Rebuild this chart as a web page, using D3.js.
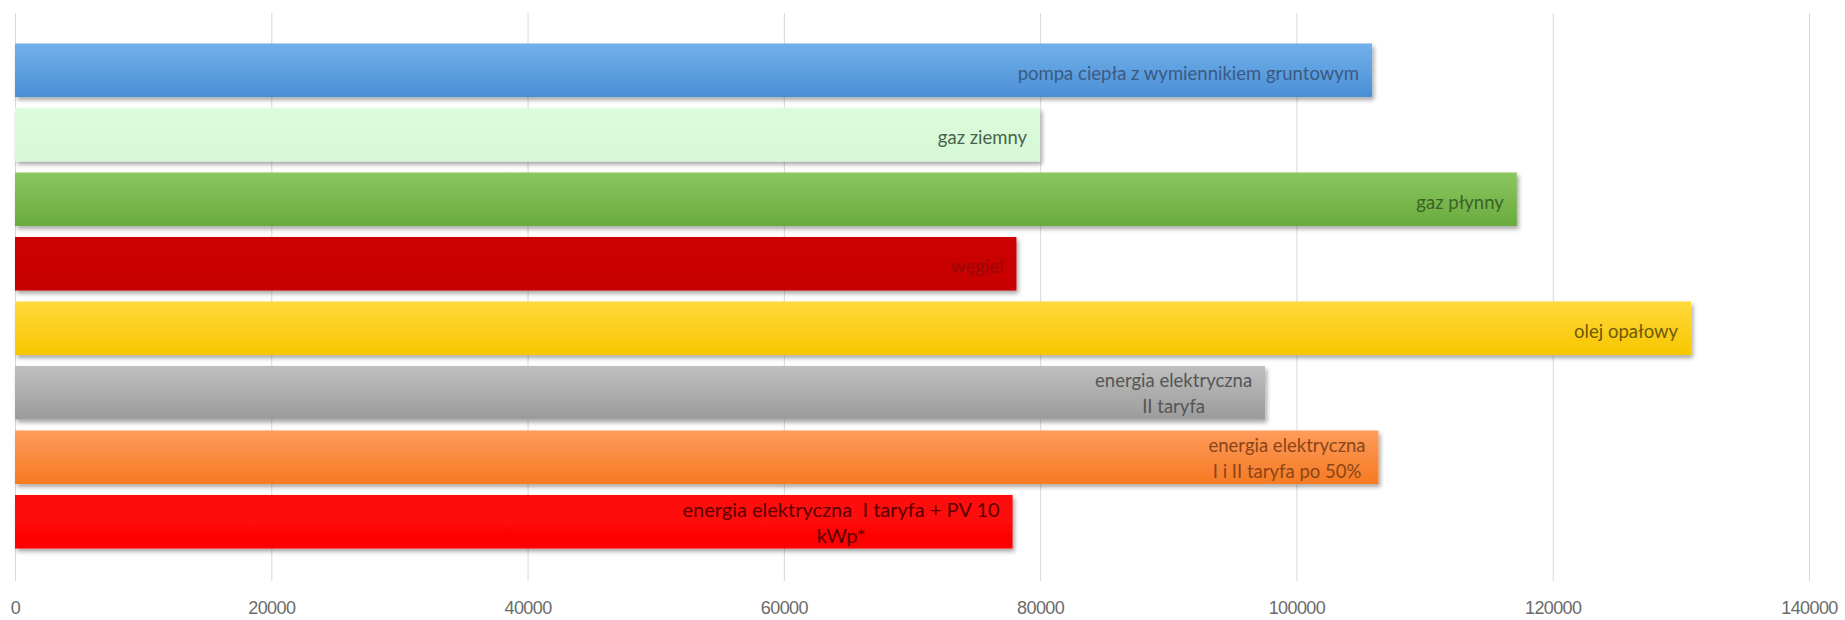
<!DOCTYPE html>
<html>
<head>
<meta charset="utf-8">
<script src="https://cdn.jsdelivr.net/npm/d3@7"></script>
<style>
	body { margin: 0; background: #fff; }
	svg { display: block; font-family: Lato, "Open Sans", sans-serif; }
	text { white-space: pre; }
</style>
</head>
<body>
<div id="chart"></div>
<script>
// Data
const categories = [
	"pompa ciepła z wymiennikiem gruntowym",
	"gaz ziemny",
	"gaz płynny",
	"węgiel",
	"olej opałowy",
	"energia elektryczna II taryfa",
	"energia elektryczna I i II taryfa po 50%",
	"energia elektryczna  I taryfa + PV 10 kWp*"
];
const values = [105900, 80000, 117200, 78150, 130800, 97550, 106400, 77850];
const labelLines = [
	["pompa ciepła z wymiennikiem gruntowym"],
	["gaz ziemny"],
	["gaz płynny"],
	["węgiel"],
	["olej opałowy"],
	["energia elektryczna", "II taryfa"],
	["energia elektryczna", "I i II taryfa po 50%"],
	["energia elektryczna  I taryfa + PV 10", "kWp*"]
];
const tickValues = [0, 20000, 40000, 60000, 80000, 100000, 120000, 140000];

// Colours (top / bottom of each bar, label colour)
const topColors = ["#72b0ea", "#dcfcdc", "#8bc661", "#cc0000", "#ffd93c", "#bfbfbf", "#fe9b5c", "#ff0909"];
const bottomColors = ["#4a8fd6", "#d6f8d6", "#69ab3d", "#c80000", "#f8c600", "#9b9b9b", "#f67a22", "#fd0505"];
const textColors = ["#3b5a82", "#4a634a", "#3b6326", "#960808", "#6e5a08", "#555555", "#8a4518", "#5a0000"];

const width = 1845;
const height = 620;
const gridTop = 13;
const gridBottom = 581;

const svg = d3.select("#chart").append("svg")
	.attr("width", width)
	.attr("height", height);

const defs = svg.append("defs");
const shadow = defs.append("filter")
	.attr("id", "shadow")
	.attr("x", "-5%").attr("y", "-20%")
	.attr("width", "110%").attr("height", "150%");
shadow.append("feDropShadow")
	.attr("dx", 2).attr("dy", 3)
	.attr("stdDeviation", 2)
	.attr("flood-color", "#000")
	.attr("flood-opacity", 0.35);

categories.forEach((c, i) => {
	const g = defs.append("linearGradient")
		.attr("id", "grad" + i)
		.attr("x1", 0).attr("y1", 0).attr("x2", 0).attr("y2", 1);
	g.append("stop").attr("offset", "0%").attr("stop-color", topColors[i]);
	g.append("stop").attr("offset", "100%").attr("stop-color", bottomColors[i]);
});

// Scales
const x = d3.scaleLinear()
	.domain([0, 140000])
	.range([15, 1809]);

const y = d3.scaleBand()
	.domain(categories)
	.range([38, 554])
	.paddingInner(0.17)
	.paddingOuter(0.085);

// X axis + gridlines
const xAxis = svg.append("g")
	.attr("transform", `translate(0,${gridBottom})`)
	.call(d3.axisBottom(x)
		.tickValues(tickValues)
		.tickSize(-(gridBottom - gridTop))
		.tickPadding(20)
		.tickFormat(d3.format("d")));
xAxis.select(".domain").remove();
xAxis.selectAll(".tick line")
	.attr("stroke", "#d9d9d9");
xAxis.selectAll(".tick text")
	.attr("fill", "#6b6b6b")
	.attr("font-size", "18px")
	.attr("letter-spacing", "-0.6px");

// Bars
const data = categories.map((c, i) => ({ cat: c, value: values[i], lines: labelLines[i], i }));

svg.append("g")
	.selectAll("rect")
	.data(data)
	.join("rect")
	.attr("x", x(0))
	.attr("y", d => y(d.cat))
	.attr("width", d => x(d.value) - x(0))
	.attr("height", y.bandwidth())
	.attr("fill", d => `url(#grad${d.i})`)
	.attr("filter", "url(#shadow)");

// Labels
const labels = svg.append("g")
	.selectAll("text")
	.data(data)
	.join("text")
	.attr("font-size", d => d.i === 7 ? "20px" : "18.5px")
	.attr("fill", d => textColors[d.i]);

labels.each(function(d) {
	const t = d3.select(this);
	const cy = y(d.cat) + y.bandwidth() / 2;
	const right = x(d.value) - 13;
	if (d.lines.length === 1) {
		t.attr("text-anchor", "end")
			.attr("x", right)
			.attr("y", cy + 3)
			.attr("dy", "0.35em")
			.text(d.lines[0]);
	} else {
		const spans = t.selectAll("tspan")
			.data(d.lines)
			.join("tspan")
			.text(s => s);
		let maxW = 0;
		spans.each(function() { maxW = Math.max(maxW, this.getComputedTextLength()); });
		const mid = right - maxW / 2;
		t.attr("text-anchor", "middle");
		spans.attr("x", mid)
			.attr("y", (s, k) => cy + (k === 0 ? -12 : 14))
			.attr("dy", "0.35em");
	}
});
</script>
</body>
</html>
